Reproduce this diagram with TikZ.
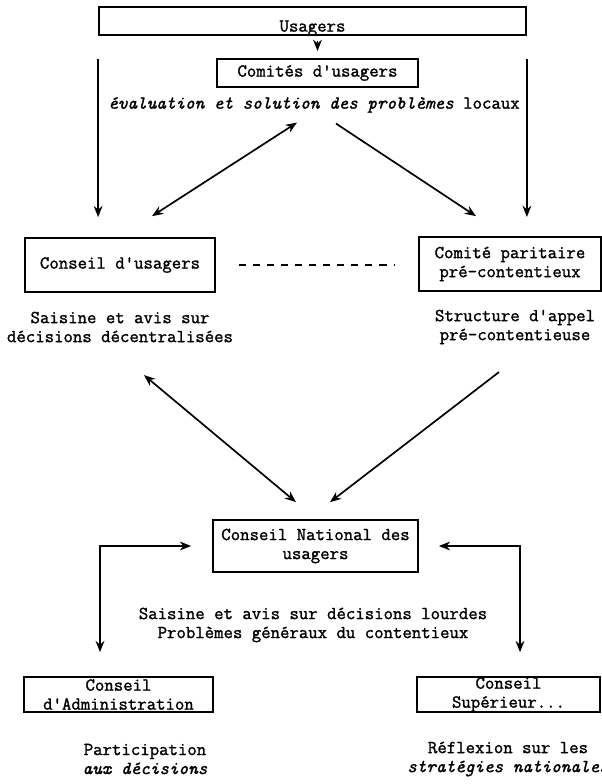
\documentclass[tikz,border=0pt]{standalone}
\usepackage{fontspec}
\newfontfamily\machine{Latin Modern Mono}[FakeBold=1.4]
\usepackage{tikz}
\usetikzlibrary{arrows.meta,positioning,calc}

\begin{document}
\begin{tikzpicture}[x=0.025cm, y=-0.025cm,
    font=\machine\fontsize{13}{13.5}\selectfont,
    >={Stealth[length=2.8mm,width=2.2mm]}, line width=1.2pt,
    cadre/.style={draw, line width=1.2pt, align=center, inner sep=0pt},
    legende/.style={align=center, inner sep=0pt}]
\useasboundingbox (0,0) rectangle (602,784);

\node[cadre, minimum width=10.675cm, minimum height=0.7cm, text height=0.55cm, text depth=0.02cm] (usagers) at (312.5,21) {Usagers};
\node[cadre, minimum width=5.025cm, minimum height=0.7cm] (comites) at (317.5,73) {Comités d'usagers};
\node[legende] (evaluation) at (314,105) {{\itshape évaluation et solution des problèmes} locaux};
\node[cadre, minimum width=4.75cm, minimum height=1.35cm] (cusagers) at (120,265) {Conseil d'usagers};
\node[cadre, minimum width=4.55cm, minimum height=1.35cm] (paritaire) at (510,264) {Comité paritaire\\pré-contentieux};
\node[legende] (decentral) at (120,327) {Saisine et avis sur\\décisions décentralisées};
\node[legende] (appel) at (515,327) {Structure d'appel\\pré-contentieuse};
\node[cadre, minimum width=5.125cm, minimum height=1.3cm] (cnational) at (315.5,546) {Conseil National des\\usagers};
\node[legende] (lourdes) at (313,625) {Saisine et avis sur décisions lourdes\\Problèmes généraux du contentieux};
\node[cadre, minimum width=4.725cm, minimum height=0.875cm] (cadmin) at (118.5,694.5) {Conseil\\d'Administration};
\node[cadre, minimum width=4.575cm, minimum height=0.875cm] (csup) at (508.5,694.5) {Conseil\\Supérieur...};
\node[legende] (participation) at (145,759) {Participation\\{\itshape aux décisions}};
\node[legende] (reflexion) at (508,759) {Réflexion sur les\\{\itshape stratégies nationales}};

\draw[->, shorten <=0.12cm, shorten >=0.18cm] (usagers.south -| comites.north) -- (comites.north);
\draw[->, shorten <=0.575cm, shorten >=0.5cm] (usagers.south west) -- (usagers.south west |- cusagers.north);
\draw[->, shorten <=0.575cm, shorten >=0.48cm] (usagers.south east) -- (usagers.south east |- paritaire.north);
\draw[<->] ($(cusagers.north)+(32,-21)$) -- ($(evaluation.south)+(-17,9)$);
\draw[->] ($(evaluation.south)+(22,10)$) -- ($(paritaire.north)+(-34,-20)$);
\draw[dash pattern=on 5pt off 5pt, shorten <=0.575cm, shorten >=0.6cm] (cusagers.east) -- (cusagers.east -| paritaire.west);
\draw[<->] ($(decentral.south)+(24,32)$) -- ($(cnational.north)+(-19.5,-17)$);
\draw[->] ($(appel.south)+(-16,27)$) -- ($(cnational.north)+(14.5,-17)$);
\draw[<->, shorten <=0.525cm, shorten >=0.6cm] (cnational.west) -| ($(cadmin.north)+(-18.5,0)$);
\draw[<->, shorten <=0.5cm, shorten >=0.6cm] (cnational.east) -| ($(csup.north)+(11.5,0)$);
\end{tikzpicture}
\end{document}
